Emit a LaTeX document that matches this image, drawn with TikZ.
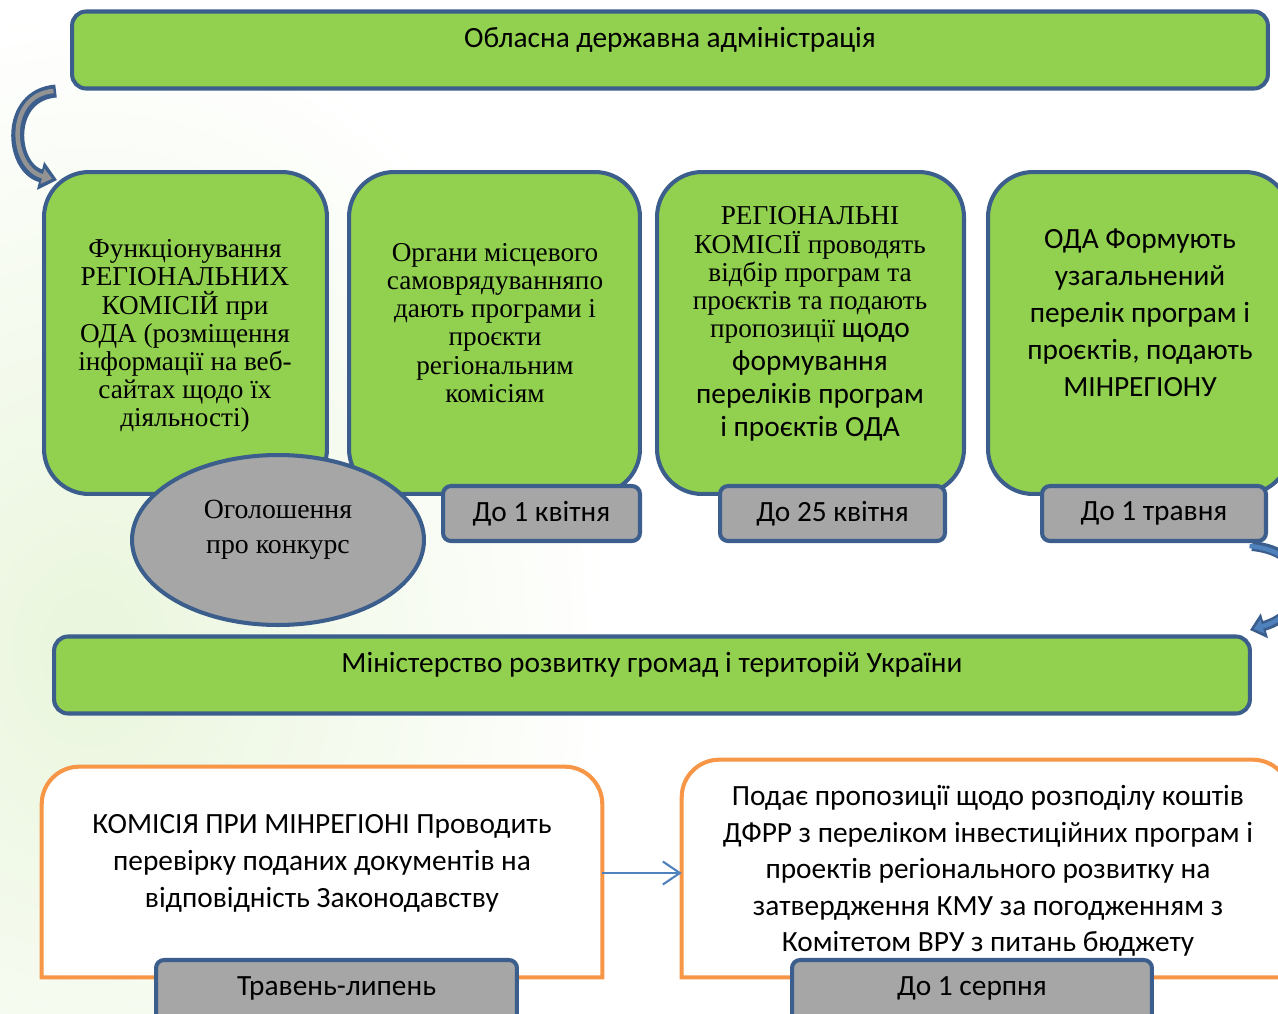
\documentclass[tikz,border=0pt]{standalone}
\usepackage{fontspec}
\setmainfont{Liberation Serif}
\setsansfont{Carlito}
\usetikzlibrary{arrows.meta,shapes.geometric,backgrounds}

\definecolor{odagreen}{HTML}{92D050}
\definecolor{frameblue}{HTML}{3B5E8C}
\definecolor{dategray}{HTML}{A6A6A6}
\definecolor{frameorange}{HTML}{F79646}
\definecolor{arrowblue}{HTML}{4F81BD}

\begin{document}
\begin{tikzpicture}[x=0.02cm, y=-0.02cm,
  greenbar/.style={draw=frameblue, fill=odagreen, line width=2.3pt, rounded corners=0.28cm,
    minimum width=23.92cm, minimum height=1.54cm},
  greenbox/.style={draw=frameblue, fill=odagreen, line width=2.3pt, rounded corners=0.9cm,
    minimum height=6.44cm},
  datebox/.style={draw=frameblue, fill=dategray, line width=2.3pt, rounded corners=0.16cm,
    minimum height=1.1cm, font=\sffamily\fontsize{16.7}{19}\selectfont},
  seriftext/.style={align=center, inner sep=0pt, font=\fontsize{15.5}{16}\selectfont},
  sanstext/.style={align=center, inner sep=0pt, font=\sffamily\fontsize{16.7}{21}\selectfont},
  orangeline/.style={fill=white, draw=frameorange, line width=2.3pt},
]
  \useasboundingbox (0,0) rectangle (1278,1014);

  % top bar
  \node[greenbar] (oda) at (670,50) {};
  \node[sanstext] (odatext) at (670,40) {Обласна державна адміністрація};

  % four steps
  \node[greenbox, minimum width=5.66cm] (funk) at (185.5,333) {};
  \node[greenbox, minimum width=5.82cm] (organ) at (494.5,333) {};
  \node[greenbox, minimum width=6.14cm] (komisii) at (810.5,333) {};
  \node[greenbox, minimum width=6.04cm] (formuiut) at (1139,333) {};

  \node[seriftext] (funktext) at (185,336)
    {Функціонування\\РЕГІОНАЛЬНИХ\\КОМІСІЙ при\\ОДА (розміщення\\інформації на веб-\\сайтах щодо їх\\діяльності)};
  \node[seriftext] (organtext) at (495,323)
    {Органи місцевого\\самоврядуванняпо\\дають програми і\\проєкти\\регіональним\\комісіям};
  \node[seriftext] (komisiitext) at (810,275)
    {РЕГІОНАЛЬНІ\\КОМІСІЇ проводять\\відбір програм та\\проєктів та подають\\пропозиції {\sffamily\fontsize{16.7}{16}\selectfont щодо}};
  \node[sanstext, font=\sffamily\fontsize{16.7}{19}\selectfont] (komisiitext2) at (810,396)
    {формування\\переліків програм\\і проєктів ОДА};
  \node[sanstext] (formuiuttext) at (1140,313)
    {ОДА Формують\\узагальнений\\перелік програм і\\проєктів, подають\\МІНРЕГІОНУ};

  % announcement and dates
  \node[ellipse, draw=frameblue, fill=dategray, line width=2.3pt,
    minimum width=5.84cm, minimum height=3.4cm] (konkurs) at (278,540) {};
  \node[seriftext, font=\fontsize{15.8}{20}\selectfont] (konkurstext) at (278,530) {Оголошення\\про конкурс};

  \node[datebox, minimum width=3.94cm] (kviten1) at (541.5,513.5) {До 1 квітня};
  \node[datebox, minimum width=4.5cm] (kviten25) at (832.5,513.5) {До 25 квітня};
  \node[datebox, minimum width=4.48cm] (traven1) at (1154,513.5) {До 1 травня};

  % ministry bar
  \node[greenbar] (minrehion) at (652,675) {};
  \node[sanstext] (minrehiontext) at (652,665) {Міністерство розвитку громад і територій України};

  % bottom boxes
  \node[minimum width=11.2cm, minimum height=4.2cm] (perevirka) at (322,872) {};
  \node[minimum width=12.16cm, minimum height=4.34cm] (podae) at (986,868.5) {};
  \begin{scope}[on background layer]
    % faded picture behind the left side
    \shade[inner color=odagreen!20, outer color=white] (90,650) ellipse [x radius=520, y radius=640];
    \filldraw[orangeline] (perevirka.south west) -- ([yshift=-0.75cm]perevirka.north west)
      arc[start angle=180, end angle=90, radius=0.75cm] -- ([xshift=-0.75cm]perevirka.north east)
      arc[start angle=90, end angle=0, radius=0.75cm] -- (perevirka.south east) -- cycle;
    \filldraw[orangeline] (podae.south west) -- ([yshift=-0.75cm]podae.north west)
      arc[start angle=180, end angle=90, radius=0.75cm] -- ([xshift=-0.75cm]podae.north east)
      arc[start angle=90, end angle=0, radius=0.75cm] -- (podae.south east) -- cycle;
  \end{scope}

  \node[sanstext] (perevirkatext) at (322,863)
    {КОМІСІЯ ПРИ МІНРЕГІОНІ Проводить\\перевірку поданих документів на\\відповідність Законодавству};
  \node[sanstext, font=\sffamily\fontsize{16.7}{20.7}\selectfont] (podaetext) at (988,871)
    {Подає пропозиції щодо розподілу коштів\\ДФРР з переліком інвестиційних програм і\\проектів регіонального розвитку на\\затвердження КМУ за погодженням з\\Комітетом ВРУ з питань бюджету};

  \node[datebox, minimum width=7.22cm, minimum height=1.24cm] (lypen) at (336.5,991) {};
  \node[sanstext] (lypentext) at (336.5,988) {Травень-липень};
  \node[datebox, minimum width=7.2cm, minimum height=1.24cm] (serpen) at (972,991) {};
  \node[sanstext] (serpentext) at (972,988) {До 1 серпня};

  % curved arrows
  \coordinate (odacurve) at (56,91);
  \coordinate (funkcurve) at (57,180);
  \draw[frameblue, line width=0.26cm, -{Triangle[length=0.34cm, width=0.56cm]}]
    (odacurve) .. controls (5,95) and (10,168) .. (funkcurve);
  \draw[gray!85, line width=0.09cm, -{Triangle[length=0.2cm, width=0.3cm]}, shorten >=0.1cm]
    ([xshift=-0.05cm]odacurve) .. controls (5,95) and (10,168) .. (funkcurve);

  \coordinate (travencurve) at (1252,546);
  \coordinate (mincurve) at (1250,630);
  \draw[frameblue, line width=0.2cm, -{Triangle[length=0.3cm, width=0.5cm]}]
    (travencurve) .. controls (1315,552) and (1312,612) .. (mincurve);
  \draw[arrowblue, line width=0.09cm, -{Triangle[length=0.18cm, width=0.28cm]}, shorten >=0.08cm]
    ([xshift=-0.05cm]travencurve) .. controls (1315,552) and (1312,612) .. (mincurve);

  % from check to proposal
  \draw[arrowblue, line width=1.2pt, -{Straight Barb[length=0.34cm, width=0.46cm]}]
    (perevirka.east |- 0,873) -- (podae.west |- 0,873);

\end{tikzpicture}
\end{document}
